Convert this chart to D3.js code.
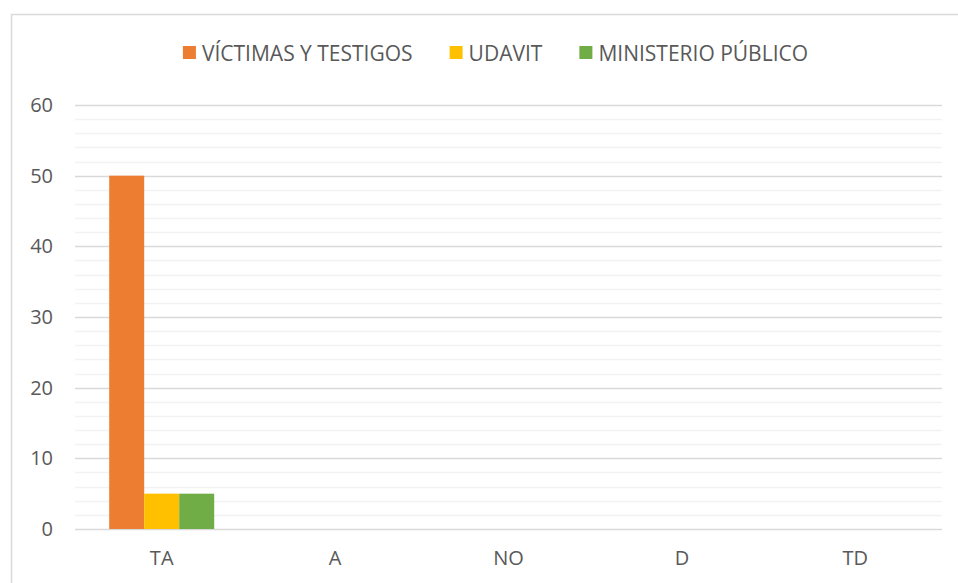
<!DOCTYPE html>
<html>
<head>
<meta charset="utf-8">
<script src="https://cdn.jsdelivr.net/npm/d3@7"></script>
<style>
  body { margin: 0; background: #fff; }
  text { font-family: "Open Sans", sans-serif; fill: #595959; }
</style>
</head>
<body>
<div id="chart"></div>
<script>
const categories = ['TA', 'A', 'NO', 'D', 'TD']
const seriesNames = ['VÍCTIMAS Y TESTIGOS', 'UDAVIT', 'MINISTERIO PÚBLICO']
const victimas = [50, 0, 0, 0, 0]
const udavit = [5, 0, 0, 0, 0]
const ministerio = [5, 0, 0, 0, 0]
const colors = ['#ED7D31', '#FFC000', '#70AD47']
const yTicks = [0, 10, 20, 30, 40, 50, 60]

const width = 958, height = 583
const margin = {top: 105, right: 16, bottom: 54, left: 75}
const w = width - margin.left - margin.right
const h = height - margin.top - margin.bottom

const svg = d3.select('#chart').append('svg')
  .attr('width', width).attr('height', height)

// chart border (right and bottom edges fall outside the picture)
svg.append('rect')
  .attr('x', 11.5).attr('y', 14.5)
  .attr('width', 970).attr('height', 600)
  .attr('fill', 'none').attr('stroke', '#d9d9d9').attr('stroke-width', 1.5)

const g = svg.append('g')
  .attr('transform', 'translate(' + margin.left + ',' + margin.top + ')')

const x = d3.scaleBand().domain(categories).range([0, w]).paddingInner(0).paddingOuter(0)
const y = d3.scaleLinear().domain([0, 60]).range([h, 0])

// minor grid
g.append('g').selectAll('line')
  .data(d3.range(0, 61, 2).filter(v => v % 10 !== 0))
  .join('line')
  .attr('x1', 0).attr('x2', w)
  .attr('y1', d => Math.round(y(d)) + 0.5).attr('y2', d => Math.round(y(d)) + 0.5)
  .attr('stroke', '#f2f2f2').attr('stroke-width', 1.5)

// major grid
g.append('g').selectAll('line')
  .data(yTicks)
  .join('line')
  .attr('x1', 0).attr('x2', w)
  .attr('y1', d => Math.round(y(d)) + 0.5).attr('y2', d => Math.round(y(d)) + 0.5)
  .attr('stroke', '#d9d9d9').attr('stroke-width', 1.5)

// y axis labels
const yAxis = d3.axisLeft(y).tickValues(yTicks).tickSize(0).tickPadding(22)
const ya = g.append('g').call(yAxis)
ya.select('.domain').remove()
ya.selectAll('text').attr('font-size', 20).attr('fill', '#595959')
  .style('font-family', '"Open Sans", sans-serif')

// x axis labels
const xAxis = d3.axisBottom(x).tickSize(0).tickPadding(22)
const xa = g.append('g').attr('transform', 'translate(0,' + h + ')').call(xAxis)
xa.select('.domain').remove()
xa.selectAll('text').attr('font-size', 20).attr('fill', '#595959')
  .style('font-family', '"Open Sans", sans-serif')

// bars
const series = [victimas, udavit, ministerio]
const x1 = d3.scaleBand().domain(d3.range(series.length)).range([0, x.bandwidth()])
  .paddingInner(0).paddingOuter(0.977)

const groups = g.append('g').selectAll('g')
  .data(categories)
  .join('g')
  .attr('transform', d => 'translate(' + x(d) + ',0)')

groups.selectAll('rect')
  .data((d, i) => series.map((s, k) => ({k: k, v: s[i]})))
  .join('rect')
  .attr('x', d => x1(d.k))
  .attr('width', x1.bandwidth())
  .attr('y', d => y(d.v))
  .attr('height', d => h - y(d.v))
  .attr('fill', d => colors[d.k])

// legend
const legend = svg.append('g').attr('class', 'legend')
const items = legend.selectAll('g').data(seriesNames).join('g')
items.append('rect')
  .attr('width', 13).attr('height', 13)
  .attr('y', 46)
  .attr('fill', (d, i) => colors[i])
items.append('text')
  .attr('x', 19).attr('y', 61)
  .attr('font-size', 21)
  .text(d => d)

items.each(function() {
  const t = d3.select(this).select('text').node().getComputedTextLength()
  d3.select(this).attr('data-w', 19 + t)
})
const widths = items.nodes().map(n => +n.getAttribute('data-w'))
const gap = 37
const total = d3.sum(widths) + gap * (widths.length - 1)
let cursor = 495.5 - total / 2
items.attr('transform', (d, i) => {
  const tx = cursor
  cursor += widths[i] + gap
  return 'translate(' + tx + ',0)'
})
</script>
</body>
</html>
